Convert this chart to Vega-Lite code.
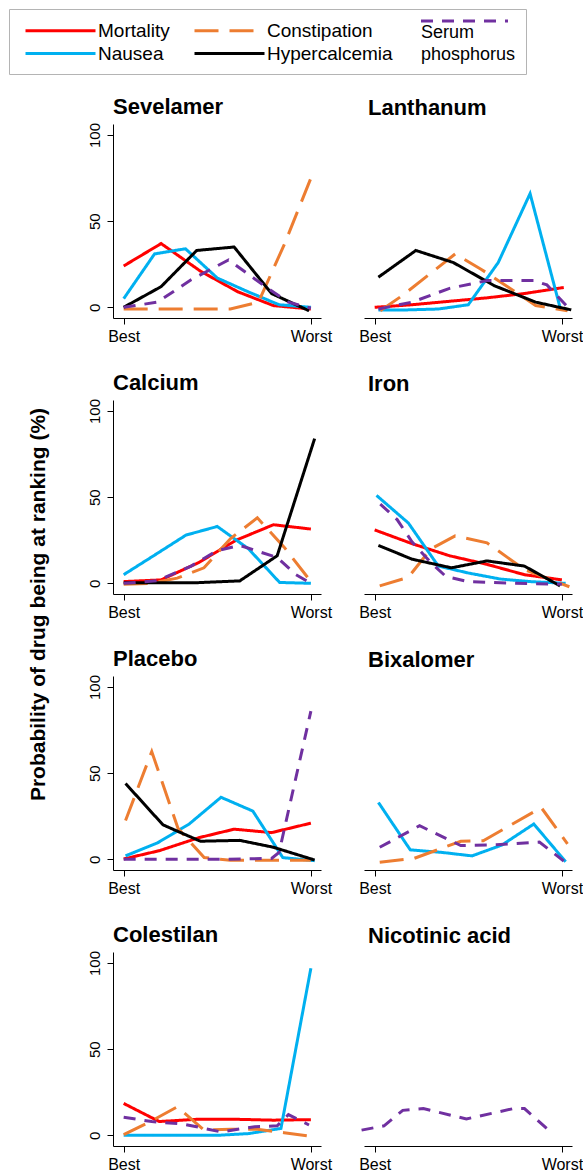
{
  "$schema": "https://vega.github.io/schema/vega-lite/v6.json",
  "padding": {"left": 8, "top": 8, "right": 0, "bottom": 0},
  "config": {
    "view": {"stroke": null},
    "axis": {"domainColor": "black", "tickColor": "black", "labelColor": "black", "labelFont": "Liberation Sans", "grid": false, "tickSize": 6, "domainWidth": 1, "tickWidth": 1, "title": null},
    "axisX": {"labelFontSize": 16, "labelPadding": 4, "labelFlush": false},
    "axisY": {"labelFontSize": 15, "labelPadding": 5, "labelAngle": 270, "labelAlign": "center", "labelBaseline": "bottom"},
    "title": {"font": "Liberation Sans", "fontSize": 22, "fontWeight": "bold", "anchor": "start", "frame": "group", "offset": 4, "baseline": "alphabetic", "color": "black"},
    "line": {"strokeWidth": 3, "clip": false}
  },
  "data": {"values": [
    {"drug":"Sevelamer","outcome":"Mortality","pos":0,"prob":24},
    {"drug":"Sevelamer","outcome":"Mortality","pos":0.2,"prob":37},
    {"drug":"Sevelamer","outcome":"Mortality","pos":0.41,"prob":21},
    {"drug":"Sevelamer","outcome":"Mortality","pos":0.61,"prob":9},
    {"drug":"Sevelamer","outcome":"Mortality","pos":0.8,"prob":1},
    {"drug":"Sevelamer","outcome":"Mortality","pos":1.0,"prob":-1},
    {"drug":"Sevelamer","outcome":"Nausea","pos":0,"prob":5},
    {"drug":"Sevelamer","outcome":"Nausea","pos":0.165,"prob":31},
    {"drug":"Sevelamer","outcome":"Nausea","pos":0.33,"prob":34},
    {"drug":"Sevelamer","outcome":"Nausea","pos":0.5,"prob":17},
    {"drug":"Sevelamer","outcome":"Nausea","pos":0.665,"prob":9},
    {"drug":"Sevelamer","outcome":"Nausea","pos":0.83,"prob":1.5},
    {"drug":"Sevelamer","outcome":"Nausea","pos":1.0,"prob":0},
    {"drug":"Sevelamer","outcome":"Constipation","pos":0,"prob":-1},
    {"drug":"Sevelamer","outcome":"Constipation","pos":0.29,"prob":-1},
    {"drug":"Sevelamer","outcome":"Constipation","pos":0.57,"prob":-1},
    {"drug":"Sevelamer","outcome":"Constipation","pos":0.72,"prob":3},
    {"drug":"Sevelamer","outcome":"Constipation","pos":0.86,"prob":37},
    {"drug":"Sevelamer","outcome":"Constipation","pos":1.0,"prob":75},
    {"drug":"Sevelamer","outcome":"Hypercalcemia","pos":0,"prob":0},
    {"drug":"Sevelamer","outcome":"Hypercalcemia","pos":0.2,"prob":12},
    {"drug":"Sevelamer","outcome":"Hypercalcemia","pos":0.39,"prob":33},
    {"drug":"Sevelamer","outcome":"Hypercalcemia","pos":0.59,"prob":35},
    {"drug":"Sevelamer","outcome":"Hypercalcemia","pos":0.79,"prob":8},
    {"drug":"Sevelamer","outcome":"Hypercalcemia","pos":0.99,"prob":-2},
    {"drug":"Sevelamer","outcome":"Serum phosphorus","pos":0,"prob":0},
    {"drug":"Sevelamer","outcome":"Serum phosphorus","pos":0.18,"prob":3},
    {"drug":"Sevelamer","outcome":"Serum phosphorus","pos":0.36,"prob":16},
    {"drug":"Sevelamer","outcome":"Serum phosphorus","pos":0.56,"prob":27.5},
    {"drug":"Sevelamer","outcome":"Serum phosphorus","pos":0.77,"prob":11},
    {"drug":"Sevelamer","outcome":"Serum phosphorus","pos":0.88,"prob":3},
    {"drug":"Sevelamer","outcome":"Serum phosphorus","pos":1.0,"prob":-0.5},

    {"drug":"Lanthanum","outcome":"Mortality","pos":0,"prob":0},
    {"drug":"Lanthanum","outcome":"Mortality","pos":0.2,"prob":1.5},
    {"drug":"Lanthanum","outcome":"Mortality","pos":0.4,"prob":3.5},
    {"drug":"Lanthanum","outcome":"Mortality","pos":0.6,"prob":5.5},
    {"drug":"Lanthanum","outcome":"Mortality","pos":0.8,"prob":8},
    {"drug":"Lanthanum","outcome":"Mortality","pos":1.01,"prob":11.5},
    {"drug":"Lanthanum","outcome":"Nausea","pos":0.02,"prob":-1.5},
    {"drug":"Lanthanum","outcome":"Nausea","pos":0.17,"prob":-1.5},
    {"drug":"Lanthanum","outcome":"Nausea","pos":0.34,"prob":-1},
    {"drug":"Lanthanum","outcome":"Nausea","pos":0.5,"prob":1.5},
    {"drug":"Lanthanum","outcome":"Nausea","pos":0.66,"prob":26},
    {"drug":"Lanthanum","outcome":"Nausea","pos":0.83,"prob":66},
    {"drug":"Lanthanum","outcome":"Nausea","pos":0.99,"prob":0},
    {"drug":"Lanthanum","outcome":"Constipation","pos":0.03,"prob":-2},
    {"drug":"Lanthanum","outcome":"Constipation","pos":0.15,"prob":7},
    {"drug":"Lanthanum","outcome":"Constipation","pos":0.29,"prob":19},
    {"drug":"Lanthanum","outcome":"Constipation","pos":0.43,"prob":31},
    {"drug":"Lanthanum","outcome":"Constipation","pos":0.57,"prob":22},
    {"drug":"Lanthanum","outcome":"Constipation","pos":0.71,"prob":12},
    {"drug":"Lanthanum","outcome":"Constipation","pos":0.86,"prob":1},
    {"drug":"Lanthanum","outcome":"Constipation","pos":1.03,"prob":-2},
    {"drug":"Lanthanum","outcome":"Hypercalcemia","pos":0.02,"prob":17.5},
    {"drug":"Lanthanum","outcome":"Hypercalcemia","pos":0.22,"prob":33},
    {"drug":"Lanthanum","outcome":"Hypercalcemia","pos":0.42,"prob":26},
    {"drug":"Lanthanum","outcome":"Hypercalcemia","pos":0.64,"prob":12.5},
    {"drug":"Lanthanum","outcome":"Hypercalcemia","pos":0.86,"prob":3},
    {"drug":"Lanthanum","outcome":"Hypercalcemia","pos":1.05,"prob":-1.5},
    {"drug":"Lanthanum","outcome":"Serum phosphorus","pos":0.02,"prob":-1},
    {"drug":"Lanthanum","outcome":"Serum phosphorus","pos":0.2,"prob":3},
    {"drug":"Lanthanum","outcome":"Serum phosphorus","pos":0.4,"prob":11},
    {"drug":"Lanthanum","outcome":"Serum phosphorus","pos":0.6,"prob":15.5},
    {"drug":"Lanthanum","outcome":"Serum phosphorus","pos":0.85,"prob":15.5},
    {"drug":"Lanthanum","outcome":"Serum phosphorus","pos":0.92,"prob":13},
    {"drug":"Lanthanum","outcome":"Serum phosphorus","pos":1.05,"prob":-2},

    {"drug":"Calcium","outcome":"Mortality","pos":0,"prob":1},
    {"drug":"Calcium","outcome":"Mortality","pos":0.2,"prob":2},
    {"drug":"Calcium","outcome":"Mortality","pos":0.4,"prob":12},
    {"drug":"Calcium","outcome":"Mortality","pos":0.6,"prob":25},
    {"drug":"Calcium","outcome":"Mortality","pos":0.8,"prob":34},
    {"drug":"Calcium","outcome":"Mortality","pos":1.0,"prob":31.5},
    {"drug":"Calcium","outcome":"Nausea","pos":0,"prob":5},
    {"drug":"Calcium","outcome":"Nausea","pos":0.167,"prob":16.5},
    {"drug":"Calcium","outcome":"Nausea","pos":0.333,"prob":28},
    {"drug":"Calcium","outcome":"Nausea","pos":0.5,"prob":33},
    {"drug":"Calcium","outcome":"Nausea","pos":0.667,"prob":20},
    {"drug":"Calcium","outcome":"Nausea","pos":0.833,"prob":0.5},
    {"drug":"Calcium","outcome":"Nausea","pos":1.0,"prob":0},
    {"drug":"Calcium","outcome":"Constipation","pos":0,"prob":-0.5},
    {"drug":"Calcium","outcome":"Constipation","pos":0.143,"prob":0},
    {"drug":"Calcium","outcome":"Constipation","pos":0.286,"prob":3},
    {"drug":"Calcium","outcome":"Constipation","pos":0.429,"prob":9},
    {"drug":"Calcium","outcome":"Constipation","pos":0.571,"prob":26},
    {"drug":"Calcium","outcome":"Constipation","pos":0.714,"prob":38},
    {"drug":"Calcium","outcome":"Constipation","pos":0.857,"prob":21},
    {"drug":"Calcium","outcome":"Constipation","pos":1.0,"prob":1},
    {"drug":"Calcium","outcome":"Hypercalcemia","pos":0,"prob":0.4},
    {"drug":"Calcium","outcome":"Hypercalcemia","pos":0.2,"prob":0.4},
    {"drug":"Calcium","outcome":"Hypercalcemia","pos":0.4,"prob":0.4},
    {"drug":"Calcium","outcome":"Hypercalcemia","pos":0.62,"prob":1.4},
    {"drug":"Calcium","outcome":"Hypercalcemia","pos":0.82,"prob":16},
    {"drug":"Calcium","outcome":"Hypercalcemia","pos":1.02,"prob":84},
    {"drug":"Calcium","outcome":"Serum phosphorus","pos":0,"prob":0},
    {"drug":"Calcium","outcome":"Serum phosphorus","pos":0.18,"prob":1.5},
    {"drug":"Calcium","outcome":"Serum phosphorus","pos":0.36,"prob":10},
    {"drug":"Calcium","outcome":"Serum phosphorus","pos":0.5,"prob":19},
    {"drug":"Calcium","outcome":"Serum phosphorus","pos":0.62,"prob":22},
    {"drug":"Calcium","outcome":"Serum phosphorus","pos":0.82,"prob":15},
    {"drug":"Calcium","outcome":"Serum phosphorus","pos":0.92,"prob":5},
    {"drug":"Calcium","outcome":"Serum phosphorus","pos":1.0,"prob":0},

    {"drug":"Iron","outcome":"Mortality","pos":0,"prob":31},
    {"drug":"Iron","outcome":"Mortality","pos":0.2,"prob":23},
    {"drug":"Iron","outcome":"Mortality","pos":0.4,"prob":16},
    {"drug":"Iron","outcome":"Mortality","pos":0.6,"prob":11},
    {"drug":"Iron","outcome":"Mortality","pos":0.8,"prob":5},
    {"drug":"Iron","outcome":"Mortality","pos":1.0,"prob":2},
    {"drug":"Iron","outcome":"Nausea","pos":0.01,"prob":51},
    {"drug":"Iron","outcome":"Nausea","pos":0.18,"prob":35},
    {"drug":"Iron","outcome":"Nausea","pos":0.34,"prob":10},
    {"drug":"Iron","outcome":"Nausea","pos":0.5,"prob":6},
    {"drug":"Iron","outcome":"Nausea","pos":0.67,"prob":2.5},
    {"drug":"Iron","outcome":"Nausea","pos":0.83,"prob":1},
    {"drug":"Iron","outcome":"Nausea","pos":1.02,"prob":0},
    {"drug":"Iron","outcome":"Constipation","pos":0.027,"prob":-1.5},
    {"drug":"Iron","outcome":"Constipation","pos":0.18,"prob":3.5},
    {"drug":"Iron","outcome":"Constipation","pos":0.3,"prob":20},
    {"drug":"Iron","outcome":"Constipation","pos":0.43,"prob":27.5},
    {"drug":"Iron","outcome":"Constipation","pos":0.6,"prob":23.5},
    {"drug":"Iron","outcome":"Constipation","pos":0.8,"prob":8},
    {"drug":"Iron","outcome":"Constipation","pos":1.04,"prob":-2},
    {"drug":"Iron","outcome":"Hypercalcemia","pos":0.02,"prob":22},
    {"drug":"Iron","outcome":"Hypercalcemia","pos":0.2,"prob":14},
    {"drug":"Iron","outcome":"Hypercalcemia","pos":0.41,"prob":9},
    {"drug":"Iron","outcome":"Hypercalcemia","pos":0.6,"prob":13},
    {"drug":"Iron","outcome":"Hypercalcemia","pos":0.8,"prob":10},
    {"drug":"Iron","outcome":"Hypercalcemia","pos":0.99,"prob":-1.5},
    {"drug":"Iron","outcome":"Serum phosphorus","pos":0.03,"prob":46},
    {"drug":"Iron","outcome":"Serum phosphorus","pos":0.12,"prob":37},
    {"drug":"Iron","outcome":"Serum phosphorus","pos":0.2,"prob":24},
    {"drug":"Iron","outcome":"Serum phosphorus","pos":0.3,"prob":12},
    {"drug":"Iron","outcome":"Serum phosphorus","pos":0.38,"prob":4},
    {"drug":"Iron","outcome":"Serum phosphorus","pos":0.5,"prob":1},
    {"drug":"Iron","outcome":"Serum phosphorus","pos":0.75,"prob":0},
    {"drug":"Iron","outcome":"Serum phosphorus","pos":1.0,"prob":-0.5},

    {"drug":"Placebo","outcome":"Mortality","pos":0,"prob":0.2},
    {"drug":"Placebo","outcome":"Mortality","pos":0.19,"prob":5},
    {"drug":"Placebo","outcome":"Mortality","pos":0.4,"prob":12.5},
    {"drug":"Placebo","outcome":"Mortality","pos":0.59,"prob":17.5},
    {"drug":"Placebo","outcome":"Mortality","pos":0.79,"prob":15.5},
    {"drug":"Placebo","outcome":"Mortality","pos":1.0,"prob":21},
    {"drug":"Placebo","outcome":"Nausea","pos":0.01,"prob":2},
    {"drug":"Placebo","outcome":"Nausea","pos":0.18,"prob":9.5},
    {"drug":"Placebo","outcome":"Nausea","pos":0.35,"prob":20.5},
    {"drug":"Placebo","outcome":"Nausea","pos":0.52,"prob":36},
    {"drug":"Placebo","outcome":"Nausea","pos":0.69,"prob":28},
    {"drug":"Placebo","outcome":"Nausea","pos":0.85,"prob":1},
    {"drug":"Placebo","outcome":"Nausea","pos":1.02,"prob":-0.8},
    {"drug":"Placebo","outcome":"Constipation","pos":0.01,"prob":22.5},
    {"drug":"Placebo","outcome":"Constipation","pos":0.15,"prob":62.5},
    {"drug":"Placebo","outcome":"Constipation","pos":0.29,"prob":18},
    {"drug":"Placebo","outcome":"Constipation","pos":0.43,"prob":1},
    {"drug":"Placebo","outcome":"Constipation","pos":0.57,"prob":-0.5},
    {"drug":"Placebo","outcome":"Constipation","pos":0.71,"prob":-0.5},
    {"drug":"Placebo","outcome":"Constipation","pos":0.86,"prob":-0.5},
    {"drug":"Placebo","outcome":"Constipation","pos":1.0,"prob":-0.5},
    {"drug":"Placebo","outcome":"Hypercalcemia","pos":0.01,"prob":44},
    {"drug":"Placebo","outcome":"Hypercalcemia","pos":0.21,"prob":20},
    {"drug":"Placebo","outcome":"Hypercalcemia","pos":0.41,"prob":10.5},
    {"drug":"Placebo","outcome":"Hypercalcemia","pos":0.62,"prob":11},
    {"drug":"Placebo","outcome":"Hypercalcemia","pos":0.8,"prob":7},
    {"drug":"Placebo","outcome":"Hypercalcemia","pos":1.02,"prob":-0.4},
    {"drug":"Placebo","outcome":"Serum phosphorus","pos":0,"prob":0},
    {"drug":"Placebo","outcome":"Serum phosphorus","pos":0.25,"prob":0},
    {"drug":"Placebo","outcome":"Serum phosphorus","pos":0.5,"prob":0},
    {"drug":"Placebo","outcome":"Serum phosphorus","pos":0.79,"prob":0.5},
    {"drug":"Placebo","outcome":"Serum phosphorus","pos":0.83,"prob":4},
    {"drug":"Placebo","outcome":"Serum phosphorus","pos":1.0,"prob":86},

    {"drug":"Bixalomer","outcome":"Nausea","pos":0.02,"prob":33},
    {"drug":"Bixalomer","outcome":"Nausea","pos":0.19,"prob":5.5},
    {"drug":"Bixalomer","outcome":"Nausea","pos":0.36,"prob":4},
    {"drug":"Bixalomer","outcome":"Nausea","pos":0.52,"prob":2},
    {"drug":"Bixalomer","outcome":"Nausea","pos":0.68,"prob":8.3},
    {"drug":"Bixalomer","outcome":"Nausea","pos":0.85,"prob":20.5},
    {"drug":"Bixalomer","outcome":"Nausea","pos":1.02,"prob":-1.4},
    {"drug":"Bixalomer","outcome":"Constipation","pos":0.027,"prob":-1.7},
    {"drug":"Bixalomer","outcome":"Constipation","pos":0.21,"prob":0.5},
    {"drug":"Bixalomer","outcome":"Constipation","pos":0.46,"prob":10.5},
    {"drug":"Bixalomer","outcome":"Constipation","pos":0.58,"prob":10.8},
    {"drug":"Bixalomer","outcome":"Constipation","pos":0.89,"prob":30},
    {"drug":"Bixalomer","outcome":"Constipation","pos":1.03,"prob":9},
    {"drug":"Bixalomer","outcome":"Serum phosphorus","pos":0.027,"prob":7},
    {"drug":"Bixalomer","outcome":"Serum phosphorus","pos":0.24,"prob":19.5},
    {"drug":"Bixalomer","outcome":"Serum phosphorus","pos":0.46,"prob":8},
    {"drug":"Bixalomer","outcome":"Serum phosphorus","pos":0.65,"prob":8.5},
    {"drug":"Bixalomer","outcome":"Serum phosphorus","pos":0.88,"prob":10},
    {"drug":"Bixalomer","outcome":"Serum phosphorus","pos":1.01,"prob":-1},

    {"drug":"Colestilan","outcome":"Mortality","pos":0,"prob":18.5},
    {"drug":"Colestilan","outcome":"Mortality","pos":0.19,"prob":8},
    {"drug":"Colestilan","outcome":"Mortality","pos":0.39,"prob":9.3},
    {"drug":"Colestilan","outcome":"Mortality","pos":0.6,"prob":9.3},
    {"drug":"Colestilan","outcome":"Mortality","pos":0.8,"prob":8.8},
    {"drug":"Colestilan","outcome":"Mortality","pos":1.0,"prob":9.1},
    {"drug":"Colestilan","outcome":"Nausea","pos":0,"prob":0},
    {"drug":"Colestilan","outcome":"Nausea","pos":0.167,"prob":0},
    {"drug":"Colestilan","outcome":"Nausea","pos":0.333,"prob":0},
    {"drug":"Colestilan","outcome":"Nausea","pos":0.5,"prob":0},
    {"drug":"Colestilan","outcome":"Nausea","pos":0.667,"prob":1},
    {"drug":"Colestilan","outcome":"Nausea","pos":0.84,"prob":4},
    {"drug":"Colestilan","outcome":"Nausea","pos":1.0,"prob":97},
    {"drug":"Colestilan","outcome":"Constipation","pos":0,"prob":0.4},
    {"drug":"Colestilan","outcome":"Constipation","pos":0.143,"prob":8},
    {"drug":"Colestilan","outcome":"Constipation","pos":0.286,"prob":16.5},
    {"drug":"Colestilan","outcome":"Constipation","pos":0.429,"prob":3},
    {"drug":"Colestilan","outcome":"Constipation","pos":0.571,"prob":3.5},
    {"drug":"Colestilan","outcome":"Constipation","pos":0.714,"prob":3.5},
    {"drug":"Colestilan","outcome":"Constipation","pos":0.857,"prob":1.5},
    {"drug":"Colestilan","outcome":"Constipation","pos":1.0,"prob":-0.5},
    {"drug":"Colestilan","outcome":"Serum phosphorus","pos":0,"prob":10.5},
    {"drug":"Colestilan","outcome":"Serum phosphorus","pos":0.15,"prob":8},
    {"drug":"Colestilan","outcome":"Serum phosphorus","pos":0.32,"prob":6.5},
    {"drug":"Colestilan","outcome":"Serum phosphorus","pos":0.52,"prob":2},
    {"drug":"Colestilan","outcome":"Serum phosphorus","pos":0.7,"prob":5},
    {"drug":"Colestilan","outcome":"Serum phosphorus","pos":0.82,"prob":5.5},
    {"drug":"Colestilan","outcome":"Serum phosphorus","pos":0.88,"prob":12},
    {"drug":"Colestilan","outcome":"Serum phosphorus","pos":0.99,"prob":6},

    {"drug":"Nicotinic acid","outcome":"Serum phosphorus","pos":-0.07,"prob":3},
    {"drug":"Nicotinic acid","outcome":"Serum phosphorus","pos":0.05,"prob":5.5},
    {"drug":"Nicotinic acid","outcome":"Serum phosphorus","pos":0.15,"prob":14.5},
    {"drug":"Nicotinic acid","outcome":"Serum phosphorus","pos":0.26,"prob":15.5},
    {"drug":"Nicotinic acid","outcome":"Serum phosphorus","pos":0.49,"prob":9.5},
    {"drug":"Nicotinic acid","outcome":"Serum phosphorus","pos":0.74,"prob":15.5},
    {"drug":"Nicotinic acid","outcome":"Serum phosphorus","pos":0.8,"prob":15.5},
    {"drug":"Nicotinic acid","outcome":"Serum phosphorus","pos":0.94,"prob":2}
  ]},
  "columns": 2,
  "spacing": {"row": 82, "column": 43},
  "bounds": "flush",
  "concat": [
    {
      "title": {"text": "Sevelamer"},
      "width": 208, "height": 194,
      "transform": [{"filter": "datum.drug === 'Sevelamer'"}],
      "mark": {"type": "line", "strokeWidth": 3, "clip": false},
      "encoding": {
        "x": {"field": "pos", "type": "quantitative", "scale": {"domain": [-0.057, 1.054], "nice": false, "zero": false}, "axis": {"values": [0, 1], "labelExpr": "datum.value == 0 ? 'Best' : 'Worst'"}},
        "y": {"field": "prob", "type": "quantitative", "scale": {"domain": [-6.2, 106.4], "nice": false, "zero": false}, "axis": {"values": [0, 50, 100]}},
        "color": {"field": "outcome", "type": "nominal",
          "scale": {"domain": ["Mortality", "Constipation", "Nausea", "Hypercalcemia", "Serum phosphorus"], "range": ["#FF0000", "#ED7D31", "#00B0F0", "#000000", "#7030A0"]},
          "legend": {
            "orient": "none", "legendX": -104, "legendY": -115,
            "columns": 2, "columnPadding": 18, "rowPadding": 1,
            "values": ["Mortality", "Nausea", "Constipation", "Hypercalcemia"],
            "title": ["Serum", "phosphorus"],
            "titleOrient": "right", "titleAnchor": "end", "titleBaseline": "bottom", "titlePadding": 28,
            "titleFont": "Liberation Sans", "titleFontSize": 18, "titleFontWeight": "normal", "titleColor": "black", "titleLineHeight": 22,
            "symbolType": "M-0.5,0H6.5", "symbolSize": 400, "symbolStrokeWidth": 3,
            "labelFont": "Liberation Sans", "labelFontSize": 19, "labelColor": "black", "labelOffset": 56,
            "padding": 10, "strokeColor": "#b4b4b4"
          }
        },
        "strokeDash": {"field": "outcome", "type": "nominal",
          "scale": {"domain": ["Mortality", "Constipation", "Nausea", "Hypercalcemia", "Serum phosphorus"], "range": [[1, 0], [24, 11], [1, 0], [1, 0], [12, 9]]},
          "legend": {
            "orient": "none", "legendX": -104, "legendY": -115,
            "columns": 2, "columnPadding": 18, "rowPadding": 1,
            "values": ["Mortality", "Nausea", "Constipation", "Hypercalcemia"],
            "title": ["Serum", "phosphorus"],
            "titleOrient": "right", "titleAnchor": "end", "titleBaseline": "bottom", "titlePadding": 28,
            "titleFont": "Liberation Sans", "titleFontSize": 18, "titleFontWeight": "normal", "titleColor": "black", "titleLineHeight": 22,
            "symbolType": "M-0.5,0H6.5", "symbolSize": 400, "symbolStrokeWidth": 3,
            "labelFont": "Liberation Sans", "labelFontSize": 19, "labelColor": "black", "labelOffset": 56,
            "padding": 10, "strokeColor": "#b4b4b4"
          }
        },
        "opacity": {"field": "outcome", "type": "nominal",
          "scale": {"domain": ["Serum phosphorus", "Mortality", "Constipation", "Nausea", "Hypercalcemia"], "range": [1, 1, 1, 1, 1]},
          "legend": {
            "orient": "none", "legendX": 301.5, "legendY": -114.5,
            "values": ["Serum phosphorus"], "title": null,
            "symbolType": "M-0.5,0H8.2", "symbolSize": 400, "symbolStrokeWidth": 3, "symbolStrokeColor": "#7030A0", "symbolDash": [12, 9],
            "labelExpr": "''", "labelFontSize": 1, "padding": 0
          }
        }
      }
    },
    {
      "title": {"text": "Lanthanum", "dx": 4},
      "width": 208, "height": 194,
      "transform": [{"filter": "datum.drug === 'Lanthanum'"}],
      "mark": {"type": "line", "strokeWidth": 3, "clip": false},
      "encoding": {
        "x": {"field": "pos", "type": "quantitative", "scale": {"domain": [-0.057, 1.054], "nice": false, "zero": false}, "axis": {"values": [0, 1], "labelExpr": "datum.value == 0 ? 'Best' : 'Worst'"}},
        "y": {"field": "prob", "type": "quantitative", "scale": {"domain": [-6.2, 106.4], "nice": false, "zero": false}, "axis": null},
        "color": {"field": "outcome", "type": "nominal"},
        "strokeDash": {"field": "outcome", "type": "nominal"},
        "opacity": {"field": "outcome", "type": "nominal"}
      }
    },
    {
      "title": {"text": "Calcium"},
      "width": 208, "height": 194,
      "transform": [{"filter": "datum.drug === 'Calcium'"}],
      "mark": {"type": "line", "strokeWidth": 3, "clip": false},
      "encoding": {
        "x": {"field": "pos", "type": "quantitative", "scale": {"domain": [-0.057, 1.054], "nice": false, "zero": false}, "axis": {"values": [0, 1], "labelExpr": "datum.value == 0 ? 'Best' : 'Worst'"}},
        "y": {"field": "prob", "type": "quantitative", "scale": {"domain": [-6.2, 106.4], "nice": false, "zero": false},
          "axis": {"values": [0, 50, 100], "title": "Probability of drug being at ranking (%)", "titleX": -75, "titleY": 204, "titleAngle": 270, "titleAlign": "center", "titleBaseline": "middle", "titleFontSize": 21, "titleFontWeight": "bold", "titleFont": "Liberation Sans", "titleColor": "black"}},
        "color": {"field": "outcome", "type": "nominal"},
        "strokeDash": {"field": "outcome", "type": "nominal"},
        "opacity": {"field": "outcome", "type": "nominal"}
      }
    },
    {
      "title": {"text": "Iron", "dx": 4},
      "width": 208, "height": 194,
      "transform": [{"filter": "datum.drug === 'Iron'"}],
      "mark": {"type": "line", "strokeWidth": 3, "clip": false},
      "encoding": {
        "x": {"field": "pos", "type": "quantitative", "scale": {"domain": [-0.057, 1.054], "nice": false, "zero": false}, "axis": {"values": [0, 1], "labelExpr": "datum.value == 0 ? 'Best' : 'Worst'"}},
        "y": {"field": "prob", "type": "quantitative", "scale": {"domain": [-6.2, 106.4], "nice": false, "zero": false}, "axis": null},
        "color": {"field": "outcome", "type": "nominal"},
        "strokeDash": {"field": "outcome", "type": "nominal"},
        "opacity": {"field": "outcome", "type": "nominal"}
      }
    },
    {
      "title": {"text": "Placebo"},
      "width": 208, "height": 194,
      "transform": [{"filter": "datum.drug === 'Placebo'"}],
      "mark": {"type": "line", "strokeWidth": 3, "clip": false},
      "encoding": {
        "x": {"field": "pos", "type": "quantitative", "scale": {"domain": [-0.057, 1.054], "nice": false, "zero": false}, "axis": {"values": [0, 1], "labelExpr": "datum.value == 0 ? 'Best' : 'Worst'"}},
        "y": {"field": "prob", "type": "quantitative", "scale": {"domain": [-6.2, 106.4], "nice": false, "zero": false}, "axis": {"values": [0, 50, 100]}},
        "color": {"field": "outcome", "type": "nominal"},
        "strokeDash": {"field": "outcome", "type": "nominal"},
        "opacity": {"field": "outcome", "type": "nominal"}
      }
    },
    {
      "title": {"text": "Bixalomer", "dx": 4},
      "width": 208, "height": 194,
      "transform": [{"filter": "datum.drug === 'Bixalomer'"}],
      "mark": {"type": "line", "strokeWidth": 3, "clip": false},
      "encoding": {
        "x": {"field": "pos", "type": "quantitative", "scale": {"domain": [-0.057, 1.054], "nice": false, "zero": false}, "axis": {"values": [0, 1], "labelExpr": "datum.value == 0 ? 'Best' : 'Worst'"}},
        "y": {"field": "prob", "type": "quantitative", "scale": {"domain": [-6.2, 106.4], "nice": false, "zero": false}, "axis": null},
        "color": {"field": "outcome", "type": "nominal"},
        "strokeDash": {"field": "outcome", "type": "nominal"},
        "opacity": {"field": "outcome", "type": "nominal"}
      }
    },
    {
      "title": {"text": "Colestilan"},
      "width": 208, "height": 194,
      "transform": [{"filter": "datum.drug === 'Colestilan'"}],
      "mark": {"type": "line", "strokeWidth": 3, "clip": false},
      "encoding": {
        "x": {"field": "pos", "type": "quantitative", "scale": {"domain": [-0.057, 1.054], "nice": false, "zero": false}, "axis": {"values": [0, 1], "labelExpr": "datum.value == 0 ? 'Best' : 'Worst'"}},
        "y": {"field": "prob", "type": "quantitative", "scale": {"domain": [-6.2, 106.4], "nice": false, "zero": false}, "axis": {"values": [0, 50, 100]}},
        "color": {"field": "outcome", "type": "nominal"},
        "strokeDash": {"field": "outcome", "type": "nominal"},
        "opacity": {"field": "outcome", "type": "nominal"}
      }
    },
    {
      "title": {"text": "Nicotinic acid", "dx": 4},
      "width": 208, "height": 194,
      "transform": [{"filter": "datum.drug === 'Nicotinic acid'"}],
      "mark": {"type": "line", "strokeWidth": 3, "clip": false},
      "encoding": {
        "x": {"field": "pos", "type": "quantitative", "scale": {"domain": [-0.057, 1.054], "nice": false, "zero": false}, "axis": {"values": [0, 1], "labelExpr": "datum.value == 0 ? 'Best' : 'Worst'"}},
        "y": {"field": "prob", "type": "quantitative", "scale": {"domain": [-6.2, 106.4], "nice": false, "zero": false}, "axis": null},
        "color": {"field": "outcome", "type": "nominal"},
        "strokeDash": {"field": "outcome", "type": "nominal"},
        "opacity": {"field": "outcome", "type": "nominal"}
      }
    }
  ]
}
